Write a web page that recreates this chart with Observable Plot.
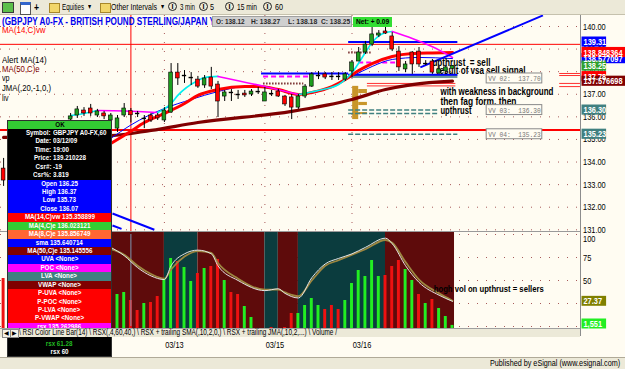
<!DOCTYPE html>
<html><head><meta charset="utf-8">
<script src="https://cdn.jsdelivr.net/npm/d3@7"></script>
<script src="https://cdn.jsdelivr.net/npm/@observablehq/plot@0.6"></script>
<style>
html,body{margin:0;padding:0;background:#fff}
#wrap{position:relative;width:625px;height:369px;overflow:hidden;background:#fffcf2;font-family:"Liberation Sans",Arial,sans-serif;color:#000}
#wrap svg{position:absolute;left:0;overflow:visible}
.a{position:absolute;white-space:nowrap}
.s{display:inline-block;white-space:nowrap;transform-origin:0 50%}
</style></head><body><div id="wrap"></div>
<script>
// ---------- DATA ----------
const candleIdx   = [0,10,11,12,13,14,15,16,17,18,19,20,21,22,23,24,25,26,27,28,29,30,31,32,33,34,35,36,37,38,39,40,41,42,43,44,45,46,47,48,49,50,51,52,53,54,55,56,57,58,59,60,61,62,63,64,65,66,67];
const candleOpen  = [133.71,135.88,136.06,136.28,136.37,136.06,136.15,135.84,135.48,136.06,136.25,136.15,135.93,136.06,136.06,135.84,136.19,137.96,137.83,137.74,137.65,137.39,137.74,137.43,136.90,137.08,136.99,137.03,136.99,137.12,136.68,137.03,137.12,136.90,136.86,136.41,136.90,137.34,137.83,137.88,137.79,137.79,137.65,138.01,138.45,138.85,139.20,139.60,139.78,139.56,138.89,138.10,138.85,138.89,138.36,138.45,137.92,138.01,138.12];
const candleHigh  = [134.16,136.15,136.46,136.41,136.55,136.33,136.24,136.15,136.06,136.59,136.37,136.24,136.06,136.15,136.15,136.41,138.36,138.36,138.05,137.96,137.79,137.83,138.19,137.57,137.17,137.21,137.17,137.17,137.21,137.30,137.30,137.17,137.21,136.95,136.99,136.99,137.43,137.96,138.01,137.96,137.96,137.96,137.96,138.49,139.07,139.34,140.00,139.82,139.96,139.73,139.11,138.45,138.89,139.07,138.49,138.54,138.23,138.27,138.27];
const candleLow   = [132.92,135.75,135.93,136.02,136.02,135.97,135.88,135.71,135.31,135.97,135.73,135.97,135.48,135.75,135.84,135.75,136.15,137.39,137.48,137.39,137.26,137.26,137.21,135.97,136.68,136.68,136.77,136.86,136.90,136.99,136.68,136.90,136.86,136.46,135.88,136.33,136.81,137.30,137.65,137.65,137.61,137.61,137.57,137.74,138.45,138.76,139.11,139.51,139.65,138.89,138.01,137.96,137.88,138.19,138.27,137.88,137.88,137.92,138.10];
const candleClose = [133.18,136.02,136.33,136.15,136.15,136.24,136.02,136.06,135.93,136.37,136.07,136.15,135.93,135.84,135.93,136.28,137.96,137.70,137.83,137.74,137.34,137.70,137.34,136.68,137.08,137.08,136.99,136.95,137.12,137.12,137.08,137.03,136.90,136.55,136.41,136.90,137.34,137.88,137.83,137.74,137.79,137.79,137.88,138.41,138.85,139.20,139.65,139.69,139.69,138.98,138.19,138.32,138.32,138.32,138.36,137.96,138.10,138.19,138.25];

const volIdx   = [0,17,18,19,20,21,22,23,24,25,26,27,28,29,30,31,32,33,34,35,36,37,40,42,43,44,45,46,47,48,49,50,51,52,53,54,55,56,57,58,59,60,61,62,63,64,65,66,67];
const volValue = [25000,17000,18000,14000,9000,12500,13000,16000,25000,35000,33500,30500,23500,27500,30000,31000,34500,24000,18000,17000,11000,5500,500,500,7500,7500,11500,15000,11500,9500,11500,9500,14000,22500,29000,26000,34000,26000,26500,31000,34000,29500,24000,17000,12500,14500,10000,6000,1551];
const volUp    = [0,1,1,0,0,1,0,0,1,1,0,1,1,0,1,0,0,1,0,0,1,1,0,0,0,1,1,1,1,0,0,0,1,1,1,1,1,1,0,0,0,1,1,0,1,0,1,1,1];

const rsxIdx = [16,18,20,22,24,25,27,29,31,32,35,39,41,42,44,46,48,50,52,54,57,58,60,62,65,67];
const rsxVal = [86,77,64,55,51,66,79,83,79,66,50,39,41,36,31,53,68,74,79,86,96,90,66,48,34,27.37];
const rsxSma = [84,78,66,57,52,62,76,82,80,69,52,40,40,37,33,50,66,72,78,84,94,91,70,51,36,28];

const ma14Idx = [16,19,21,24,27,29,32,36,38,41,44,46,49,51,53,55,58,61,64,67];
const ma14Val = [134.82,135.36,135.75,136.15,136.59,136.95,137.21,137.34,137.34,137.21,136.99,137.08,137.34,137.65,138.05,138.36,138.67,138.80,138.83,138.85];
const ma50Idx = [0,16,22,29,43,52,57,61,67];
const ma50Val = [135.09,135.17,135.40,135.75,136.24,136.77,137.21,137.43,137.58];
const smaIdx  = [16,19,24,28,32,36,40,44,48,52,55,58,62,67];
const smaVal  = [135.04,135.64,136.37,136.77,137.12,137.34,137.26,136.99,137.21,137.79,138.23,138.54,138.63,138.58];
const jmaIdx  = [10,12,14,18,23,25,26,29,30,32,39,44,47,50,52,54,55,57,58,61,64,67];
const jmaVal  = [136.06,136.15,136.28,136.26,136.19,136.59,136.95,137.61,137.74,137.79,137.34,136.99,137.17,137.43,137.96,138.85,139.29,139.73,139.78,139.47,139.10,138.63];
const jmaDir  = ["up","up","dn","dn","up","up","up","up","up","dn","dn","up","up","up","up","up","up","up","dn","dn","dn"];

const trendI1 = [62.2,16.25,16.25], trendP1 = [138.19,131.72,131.19];
const trendI2 = [80.5,22.5,17.6],  trendP2 = [140.49,131.00,131.04];

const hlY    = [139.31,137.92,137.86,137.79,138.41,137.48,138.85,136.30,136.15,135.23,137.48,137.37,137.92,137.83,137.48,137.34];
const hlX1   = [51.5,38.5,51.5,38.8,53.0,38.8,51.5,51.5,51.5,51.5,54.3,54.3,83.0,83.0,83.0,83.0];
const hlX2   = [67.8,51.5,67.8,45.8,58.5,44.8,55.0,64.9,64.9,67.8,67.5,67.5,86.1,86.1,86.1,86.1];
const hlKind = ["blue","blue","blue","magenta","magenta","brown","brown","teal","teal","teal","red","red","red","red","red","red"];

const vpI1 = [52.1,53.0,53.0,53.0], vpI2 = [53.0,54.3,54.3,54.3];
const vpLo = [135.88,137.03,136.50,136.10], vpHi = [137.35,137.21,136.64,136.19];
const vpBandI = [51.5,67.8], vpBandP = [137.70,137.86];

const dayStart  = [24,39,52];
const dayLabels = ["03/13","03/15","03/16"];
const priceTicks = [131,132,133,134,135,136,137,138,139,140];
const rsiTicks = [0,25,50,75,100];
const bandFrom = [16,24,29,39,41,44,57], bandTo = [24,29,39,41,44,57,67.3];
const bandUp   = [0,1,0,1,0,1,0];

const cursorIdx = 19, cursorPrice = 139.210228, alertLine = 135.42;

const notesT = ["upthrust  = sell","result of vsa sell signal","with weakness in background","then fag form, then","upthrust"];
const notesI = [64.0,64.6,65.2,65.2,65.2];
const notesP = [138.41,138.05,137.12,136.68,136.28];
const lowNoteT = "hogh vol on upthrust = sellers", lowNoteI = 64.2, lowNoteV = 41.3;

const vvName = ["02","03","04"], vvVal = [137.70,136.30,135.23];

const lblVal   = [137.78,138.577097,139.31,138.848364,138.25,137.576698,136.30,135.23];
const lblText  = ["137.78","138.577097","139.31","138.848364","138.25","137.576698","136.30","135.23"];
const lblColor = ["#ff0000","#0000ff","#0000ff","#ff0000","#2f9f2f","#800000","#408080","#408080"];

// ---------- BUILD ----------
const wrap = document.getElementById("wrap");
const W = 625, PX = 580;
const xDom = [-0.463, 86.104];
const AX1 = 86.33, AX2 = 90.0, AX3 = 92.9;
const VOLMAX = 48500;
const font = "Liberation Sans, Arial, sans-serif";

function mk(opts){
  return Plot.plot(Object.assign({width:W, marginLeft:0, marginRight:W-PX, marginTop:0, marginBottom:0,
    x:{domain:xDom, axis:null},
    style:{background:"transparent", fontFamily:font, fontSize:"9.5px", color:"#000", overflow:"visible"}}, opts));
}
function put(svg, top){ svg.style.top = top+"px"; wrap.appendChild(svg); }

const candles = candleIdx.map((i,k)=>({i,o:candleOpen[k],h:candleHigh[k],l:candleLow[k],c:candleClose[k]}));
const pts = (I,V)=>I.map((i,k)=>({i,p:V[k]}));
const jma = [];
{ let run=-1, prev=null;
  for(let k=0;k<jmaIdx.length-1;k++){
    const col = jmaDir[k]==="up" ? "#00f0f0" : "#ff00ff";
    if(jmaDir[k]!==prev){ run++; prev=jmaDir[k]; jma.push({i:jmaIdx[k],p:jmaVal[k],run,col}); }
    jma.push({i:jmaIdx[k+1],p:jmaVal[k+1],run,col});
  } }
const trend = trendI1.map((v,k)=>({i1:v,p1:trendP1[k],i2:trendI2[k],p2:trendP2[k]}));
const hl = hlY.map((y,k)=>({y,x1:hlX1[k],x2:hlX2[k],kind:hlKind[k]}));
const hlStyle = {
  blue:{stroke:"#0000ff",strokeWidth:2},
  magenta:{stroke:"#ff00ff",strokeWidth:2,strokeDasharray:"5,3"},
  brown:{stroke:"#7a3030",strokeWidth:2,strokeDasharray:"1.5,1.5"},
  teal:{stroke:"#408080",strokeWidth:1.5,strokeDasharray:"5,2"},
  red:{stroke:"#ff3030",strokeWidth:1}
};
const hlMarks = Object.entries(hlStyle).map(([k,s])=>Plot.ruleY(hl.filter(d=>d.kind===k),{y:"y",x1:"x1",x2:"x2",...s}));
const vp = vpI1.map((v,k)=>({i1:v,i2:vpI2[k],lo:vpLo[k],hi:vpHi[k]}));
const notes = notesT.map((t,k)=>({t,i:notesI[k],p:notesP[k]}));
const vv = vvName.map((n,k)=>({n,v:vvVal[k]}));
const lbls = lblVal.map((v,k)=>({v,t:lblText[k],c:lblColor[k]}));

const mainSvg = mk({height:216, y:{domain:[130.925,140.487], axis:null}, marks:[
  Plot.ruleY(priceTicks,{stroke:"#a85a5a",strokeDasharray:"1,8"}),
  Plot.ruleX(dayStart,{stroke:"#a85a5a",strokeDasharray:"1,8"}),
  Plot.ruleY([alertLine],{stroke:"#ff0000",strokeWidth:2}),
  Plot.ruleX([cursorIdx],{stroke:"#ff0000"}),
  Plot.ruleY([cursorPrice],{stroke:"#ff0000"}),
  Plot.rect([0],{x1:vpBandI[0],x2:vpBandI[1],y1:vpBandP[0],y2:vpBandP[1],fill:"#6a9898"}),
  Plot.rect(vp,{x1:"i1",x2:"i2",y1:"lo",y2:"hi",fill:"#c8962a"}),
  ...hlMarks,
  Plot.line(pts(ma50Idx,ma50Val),{x:"i",y:"p",stroke:"#800000",strokeWidth:3.2,curve:"monotone-x"}),
  Plot.line(pts(smaIdx,smaVal),{x:"i",y:"p",stroke:"#0000ff",strokeWidth:1,curve:"monotone-x"}),
  Plot.line(pts(ma14Idx,ma14Val),{x:"i",y:"p",stroke:"#ff0000",strokeWidth:3,curve:"monotone-x"}),
  Plot.line(jma,{x:"i",y:"p",z:"run",stroke:"col",strokeWidth:1.6,curve:"monotone-x"}),
  Plot.link(trend,{x1:"i1",y1:"p1",x2:"i2",y2:"p2",stroke:"#0000ff",strokeWidth:2,clip:true}),
  Plot.text(notes,{x:"i",y:"p",text:"t",textAnchor:"start",fontWeight:"bold",fontSize:10,fill:"#000"}),
  Plot.ruleX(candles,{x:"i",y1:"l",y2:"h",stroke:"#000",strokeWidth:1}),
  Plot.rect(candles.filter(d=>d.o!==d.c),{x1:d=>d.i-0.28,x2:d=>d.i+0.28,y1:"o",y2:"c",fill:d=>d.c>d.o?"#1e9e1e":"#ff0000",stroke:"#000",strokeWidth:0.6}),
  Plot.ruleY(candles.filter(d=>d.o===d.c),{y:"o",x1:d=>d.i-0.32,x2:d=>d.i+0.32,stroke:"#000",strokeWidth:1.4}),
  Plot.rect(vv,{x1:72.1,x2:80.4,y1:d=>d.v-0.22,y2:d=>d.v+0.22,fill:"#fffcf2",stroke:"#8a8a8a"}),
  Plot.text(vv,{x:76.25,y:"v",text:d=>`VV ${d.n}:  ${d.v.toFixed(2)}`,fill:"#777",fontFamily:"Liberation Mono, monospace",fontSize:8}),
  Plot.axisY(priceTicks,{anchor:"right",tickSize:0,tickPadding:2.5,tickFormat:d=>d.toFixed(2),fontSize:9.5}),
  Plot.rect(lbls,{x1:AX1,x2:d=>d.t.length>6?AX3:AX2,y1:d=>d.v-0.225,y2:d=>d.v+0.225,fill:"c"}),
  Plot.text(lbls,{x:AX1,y:"v",text:"t",dx:1.5,textAnchor:"start",fill:"#fff",fontWeight:"bold",fontSize:9.5})
]});
put(mainSvg, 15);

const l1 = mk({height:97, marginTop:3, marginBottom:2, y:{domain:[0,100],axis:null}, marks:[
  Plot.ruleY(rsiTicks,{stroke:"#a85a5a",strokeDasharray:"1,8"}),
  Plot.axisY([50,75],{anchor:"right",tickSize:0,tickPadding:2.5,fontSize:9.5}),
  Plot.axisY([100],{anchor:"right",tickSize:0,tickPadding:2.5,fontSize:9.5,dy:4})
]});
put(l1, 231);

const vols = volIdx.map((i,k)=>({i,v:volValue[k],up:volUp[k]}));
const bands = bandFrom.map((f,k)=>({f,t:bandTo[k],up:bandUp[k]}));
const lastVol = volValue[volValue.length-1];
const l2 = mk({height:97, y:{domain:[0,VOLMAX],axis:null}, marks:[
  Plot.rect(bands,{x1:"f",x2:"t",y1:0,y2:VOLMAX,insetTop:1,fill:d=>d.up?"#0b3c3e":"#5e0b0b"}),
  Plot.rect(vols,{x1:d=>d.i-0.22,x2:d=>d.i+0.22,y1:0,y2:"v",fill:d=>d.up?"#22ee22":"#ee1111"}),
  Plot.rect([lastVol],{x1:AX1,x2:AX2,y1:d=>d-1800,y2:d=>d+3200,fill:"#22ee22"}),
  Plot.text([lastVol],{x:AX1,y:d=>d,dy:-1,text:d=>d.toLocaleString("en-US"),dx:1.5,textAnchor:"start",fill:"#fff",fontWeight:"bold"})
]});
put(l2, 231);

const rsx = rsxIdx.map((i,k)=>({i,v:rsxVal[k],s:rsxSma[k]}));
const rsxLast = rsxVal[rsxVal.length-1];
const l3 = mk({height:97, marginTop:3, marginBottom:2, y:{domain:[0,100],axis:null}, marks:[
  Plot.ruleX([cursorIdx],{stroke:"#7d98b3"}),
  Plot.line(rsx,{x:"i",y:"s",stroke:"#9c8640",strokeWidth:1.8,curve:"monotone-x"}),
  Plot.line(rsx,{x:"i",y:"v",stroke:"#e4e4e4",strokeWidth:1,curve:"monotone-x"}),
  Plot.text([lowNoteT],{x:lowNoteI,y:lowNoteV,text:d=>d,textAnchor:"start",fontWeight:"bold",fontSize:9.5,fill:"#000"}),
  Plot.rect([rsxLast],{x1:AX1,x2:AX2,y1:d=>d-5.4,y2:d=>d+5.4,fill:"#808000"}),
  Plot.text([rsxLast],{x:AX1,y:d=>d,text:d=>d.toFixed(2),dx:1.5,textAnchor:"start",fill:"#fff",fontWeight:"bold"})
]});
put(l3, 231);

const dp = mk({height:14, y:{domain:[0,1],axis:null}, marks:[
  Plot.text(dayStart,{x:d=>d,text:(d,k)=>dayLabels[k],frameAnchor:"middle",dx:10,fontSize:9.5})
]});
put(dp, 337);

// ---------- HTML chrome ----------
function box(left, top, w, h, css){ const d=document.createElement("div"); d.className="a"; Object.assign(d.style,{left:left+"px",top:top+"px",width:w+"px",height:h+"px"},css||{}); wrap.appendChild(d); return d; }
function txt(s, left, top, o={}, parent){
  const d=document.createElement("div"); d.className="a";
  Object.assign(d.style,{left:left+"px",top:top+"px",fontSize:(o.fs||9)+"px",lineHeight:(o.lh||10)+"px",color:o.c||"#000",fontWeight:o.b?"bold":"normal"});
  const sp=document.createElement("span"); sp.className="s"; sp.textContent=s; if(o.w) sp.dataset.w=o.w;
  d.appendChild(sp); (parent||wrap).appendChild(d); return d;
}
// lines
box(0,231,580,1,{background:"#9a9a9a"});
box(580,15,1,321,{background:"#8c8c8c"});

// toolbar
box(0,0,625,14,{background:"#ece9d8",borderBottom:"1px solid #c5c1ad"});
box(2,2,10,9,{background:"#5cbf4a",border:"1px solid #3a3a3a"});
box(20,2,9,9,{background:"#fff",border:"1px solid #555",borderTop:"3px solid #36c"});
txt("+",34,1,{fs:11,b:true,lh:12});
box(49,3,9,8,{background:"#f2d66a",border:"1px solid #a8872a"});
txt("Equities",62,2,{fs:9,w:22});
txt("▾",88,2,{fs:8});
box(100,3,9,8,{background:"#f2d66a",border:"1px solid #a8872a"});
txt("Other Intervals",111,2,{fs:9,w:46});
txt("▾",161,2,{fs:8});
[[168,"3 min",180,15],[199,"5",210,4],[225,"15 min",237,20],[263,"60",275,8]].forEach(([cx,s,tx,w])=>{
  box(cx,2,7,7,{border:"1px solid #222",borderRadius:"50%",fontSize:"7px",lineHeight:"7px",textAlign:"center",fontWeight:"bold"}).textContent="I";
  txt(s,tx,2,{fs:9,w});
});

// title row
const tdiv = box(2,16,210,11,{overflow:"hidden"});
txt("(GBPJPY A0-FX - BRITISH POUND STERLING/JAPAN YEN",0,0,{fs:10,b:true,c:"#0000ee",lh:11,w:224},tdiv);
box(212,16,140,11,{background:"#cfcfcf",boxSizing:"border-box",border:"1px solid #a0a0a0"});
[["O: 138.12",216],["H: 138.27",251],["L: 138.18",288],["C: 138.25",321]].forEach(([s,x])=>txt(s,x,16.5,{fs:8,b:true,c:"#2a2a2a",w:29}));
box(353,17,39,10,{background:"#33dd33"});
txt("Net: + 0.09",356,17,{fs:8,b:true,w:33});
txt("MA(14,C)vw",2,25.4,{fs:9,c:"#ff0000",w:44});
txt("Alert MA(14)",2,55.4,{fs:9,w:45});
txt("MA(50,C)e",2,64.4,{fs:9,c:"#800000",w:38});
txt("vp",2,73.4,{fs:9,w:8});
txt("JMA(,20,-1,0,)",2,83.4,{fs:9,w:49});
txt("liv",2,93,{fs:9,w:7});

// data window
const dw = box(7,120,105,237,{background:"#000",overflow:"hidden",boxSizing:"border-box",border:"1px solid #303030"});
const rows = [
  {t:"OK",bg:"#33cc33",c:"#000",h:8},
  {l:"Symbol:",v:"GBPJPY A0-FX,60"},{l:"Date:",v:"03/12/09"},{l:"Time:",v:"19:00"},
  {l:"Price:",v:"139.210228"},{l:"Csr#:",v:"-19"},{l:"Csr%:",v:"3.819"},
  {t:"Open 136.25",bg:"#0000ff"},{t:"High 136.37",bg:"#0000ff"},{t:"Low 135.73",bg:"#0000ff"},{t:"Close 136.07",bg:"#0000ff"},
  {t:"MA(14,C)vw 135.358899",bg:"#ff0000"},{t:"MA(4,C)e 136.023121",bg:"#33cc33"},{t:"MA(8,C)e 135.856749",bg:"#ff6633"},
  {t:"sma 135.640714",bg:"#0000ff"},{t:"MA(50,C)e 135.145556",bg:"#800000"},
  {t:"UVA <None>",bg:"#0000ff"},{t:"POC <None>",bg:"#ff00ff"},{t:"LVA <None>",bg:"#408080"},{t:"VWAP <None>",bg:"#800000"},
  {t:"P-UVA <None>",bg:"#ff0000"},{t:"P-POC <None>",bg:"#ff0000"},{t:"P-LVA <None>",bg:"#ff0000"},{t:"P-VWAP <None>",bg:"#ff0000"},
  {t:"rsx 135.262986",bg:"#ff00ff"},
  {t:"rsx 55.75",bg:"#000",c:"#ff3030"},{t:"rsx 61.28",bg:"#000",c:"#22bb22"},{t:"rsx 60",bg:"#000"}
];
let ry = 0;
rows.forEach(r=>{
  const h = r.h||8.43;
  const rd = document.createElement("div");
  Object.assign(rd.style,{position:"absolute",left:"0",top:ry+"px",width:"103px",height:h+"px",background:r.bg||"#000",fontSize:"8px",lineHeight:h+"px",fontWeight:"bold",color:r.c||"#fff",whiteSpace:"nowrap"});
  if(r.t!==undefined){
    rd.style.textAlign="center";
    const sp=document.createElement("span"); sp.className="s"; sp.style.transformOrigin="50% 50%"; sp.textContent=r.t; rd.appendChild(sp);
  } else {
    const a=document.createElement("div"); Object.assign(a.style,{position:"absolute",left:"0",width:"43px",textAlign:"right"});
    const sa=document.createElement("span"); sa.className="s"; sa.style.transformOrigin="100% 50%"; sa.textContent=r.l; a.appendChild(sa);
    const b=document.createElement("div"); Object.assign(b.style,{position:"absolute",left:"45px"});
    const sb=document.createElement("span"); sb.className="s"; sb.textContent=r.v; b.appendChild(sb);
    rd.appendChild(a); rd.appendChild(b);
  }
  dw.appendChild(rd); ry += h;
});

// tab bar
box(0,328,580,9,{background:"#ece9d8",borderTop:"1px solid #a0a0a0",boxSizing:"border-box"});
box(2,329,7,7,{border:"1px solid #888",background:"#f4f2e8",fontSize:"6px",lineHeight:"7px",textAlign:"center"}).textContent="◀";
box(10,329,7,7,{border:"1px solid #888",background:"#f4f2e8",fontSize:"6px",lineHeight:"7px",textAlign:"center"}).textContent="▶";
txt("\\ RSI Color Line Bar(14) \\ RSX(,4,60,40,) \\ RSX + trailing SMA(,10,2,0,) \\ RSX + trailing JMA(,10,2,...) \\ Volume /",19,328,{fs:8.5,lh:9,w:318});

// footer
box(0,357,625,12,{background:"#ece9d8",borderTop:"1px solid #b0aa98",boxSizing:"border-box"});
txt("Published by eSignal (www.esignal.com)",490,358,{fs:9,lh:11,w:130});

// ---------- condense text horizontally ----------
const fitW = {"upthrust  = sell":58,"result of vsa sell signal":89,"with weakness in background":113,"then fag form, then":76,"upthrust":31,"hogh vol on upthrust = sellers":110,
  "138.848364":39,"138.577097":39,"137.576698":39};
wrap.querySelectorAll("svg text").forEach(t=>{
  const w = t.getComputedTextLength(); if(!w) return;
  const tw = fitW[t.textContent] ?? w*0.78;
  t.setAttribute("textLength", tw.toFixed(1)); t.setAttribute("lengthAdjust","spacingAndGlyphs");
});
wrap.querySelectorAll(".s").forEach(el=>{
  const w = el.offsetWidth; if(!w) return;
  const tw = el.dataset.w ? +el.dataset.w : w*0.78;
  el.style.transform = `scaleX(${tw/w})`;
});
</script></body></html>
